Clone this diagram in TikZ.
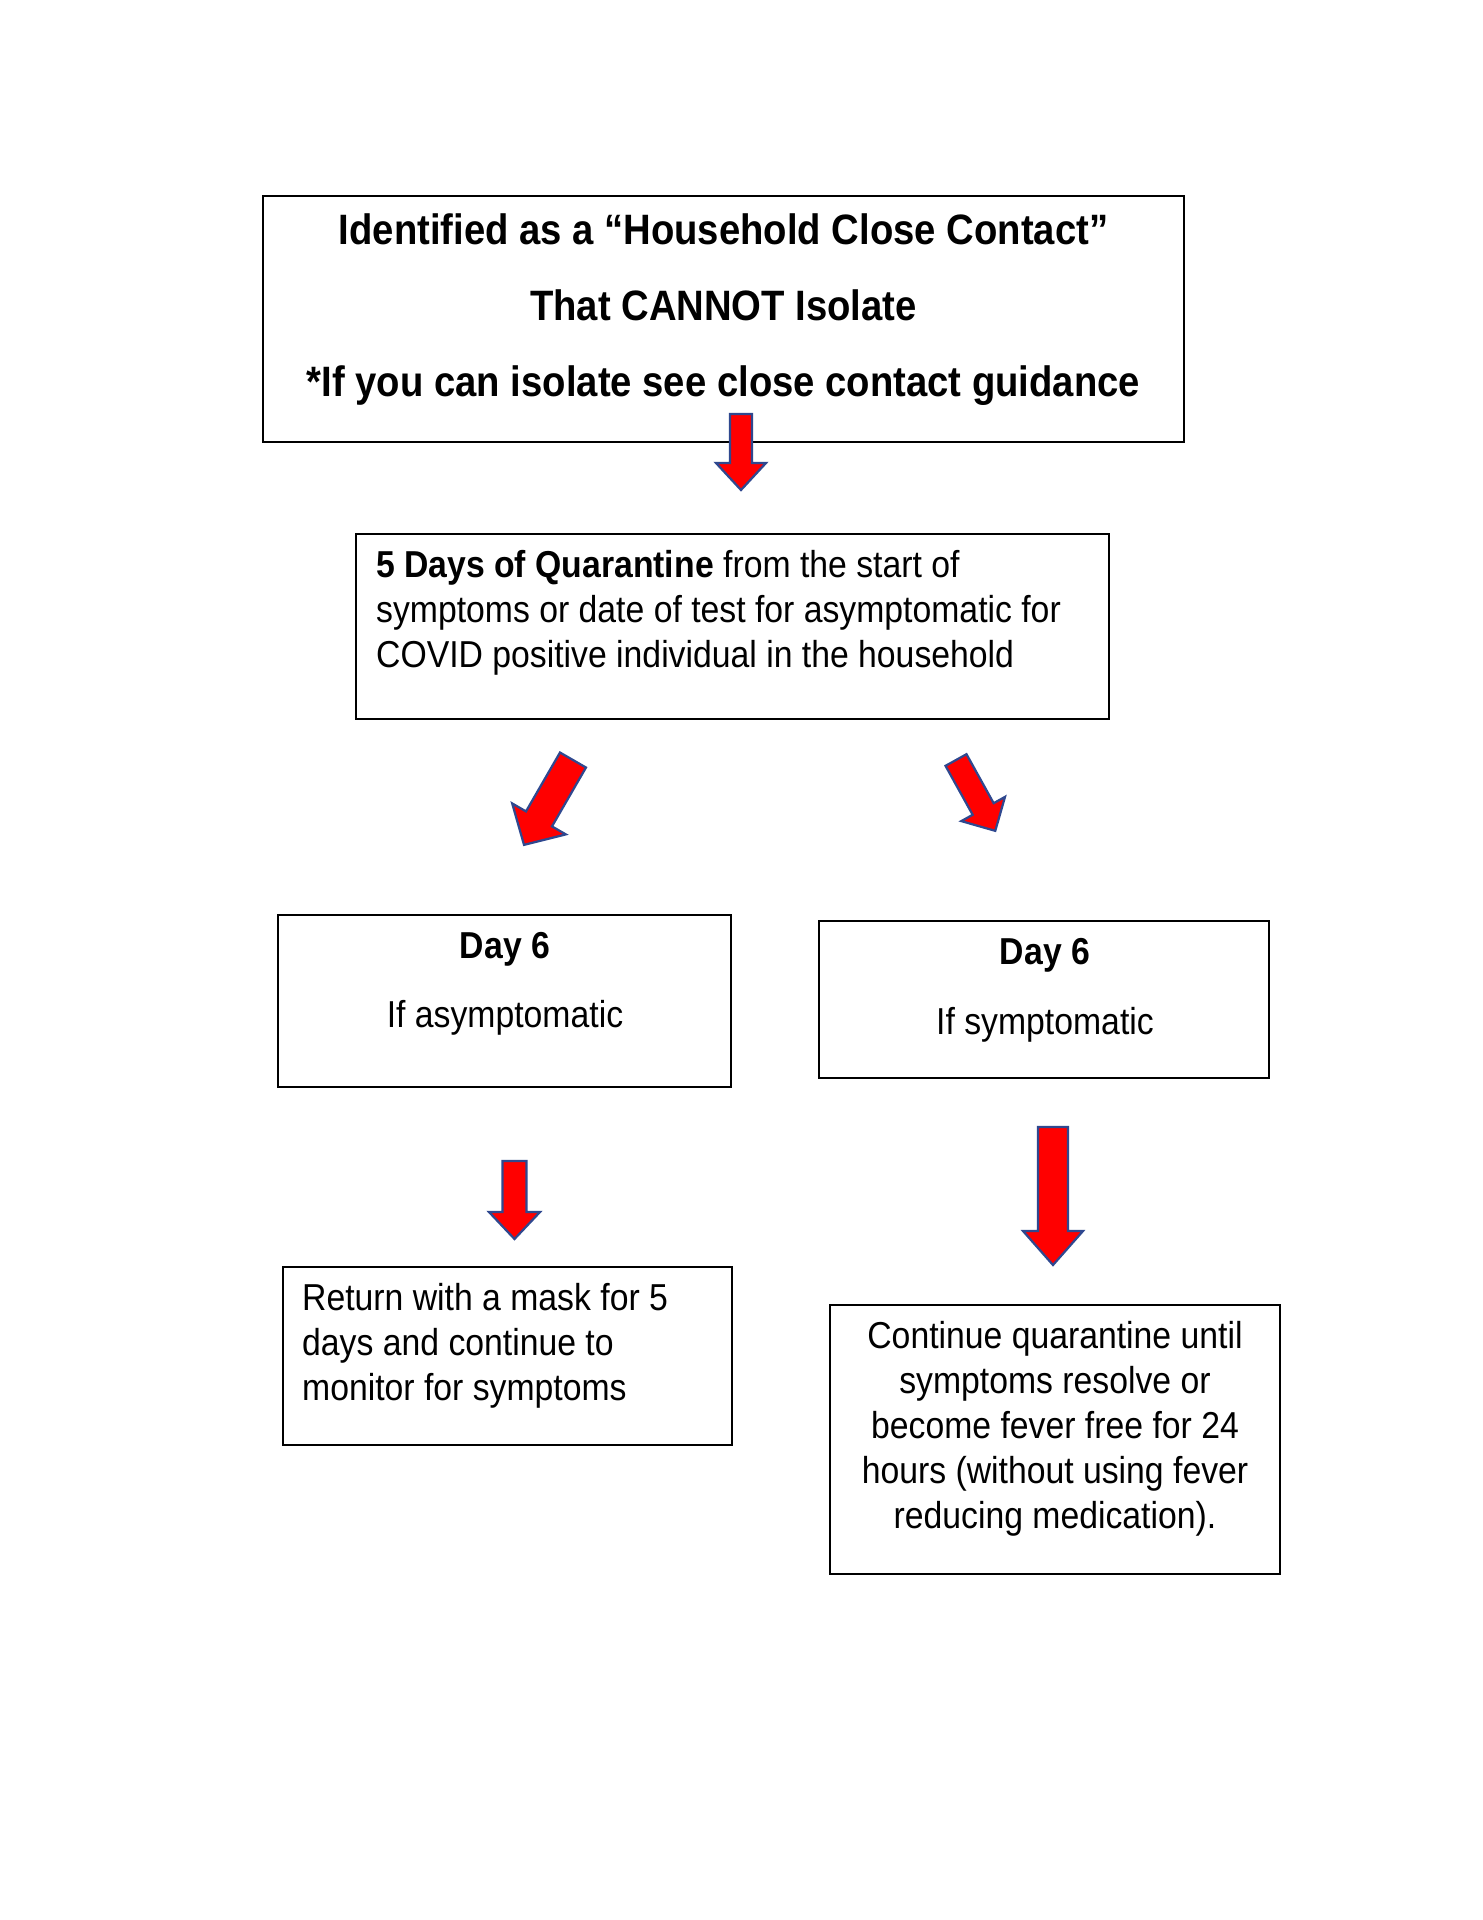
\documentclass[tikz,border=0pt]{standalone}
\usepackage{fontspec}
\setmainfont{Liberation Sans}[FakeStretch=0.9]
\begin{document}
\begin{tikzpicture}[x=1pt,y=-1pt,
  box/.style={draw=black,line width=2.5pt,fill=none,inner sep=0pt},
  barrow/.style={fill=red,draw={rgb,255:red,47;green,72;blue,143},line width=2.2pt,line join=miter},
  big/.style={font=\bfseries\fontsize{42.5}{76}\selectfont,inner sep=0pt,anchor=base},
  body/.style={font=\fontsize{37.5}{45}\selectfont,inner sep=0pt,anchor=base}]
\useasboundingbox (0,0) rectangle (1483,1920);
\fill[white] (0,0) rectangle (1483,1920);
\newcommand\blockarrow[7]{\begin{scope}[shift={(#1,#2)},rotate=#3]
\draw[barrow] (0,-#5) -- ({#4-#7},-#5) -- ({#4-#7},-#6) -- (#4,0) -- ({#4-#7},#6) -- ({#4-#7},#5) -- (0,#5) -- cycle;
\end{scope}}
% boxes
\node[box,minimum width=921,minimum height=246] (b1) at (723.5,319) {};
\node[box,minimum width=753,minimum height=185] (b2) at (732.5,626.5) {};
\node[box,minimum width=453,minimum height=172] (b3) at (504.5,1001) {};
\node[box,minimum width=450,minimum height=157] (b4) at (1044,999.5) {};
\node[box,minimum width=449,minimum height=178] (b5) at (507.5,1356) {};
\node[box,minimum width=450,minimum height=269] (b6) at (1055,1439.5) {};
% texts
\node[big] (t1a) at (723.5,244) {Identified as a “Household Close Contact”};
\node[big] (t1b) at (723.5,320) {That CANNOT Isolate};
\node[big] (t1c) at (723.5,396) {*If you can isolate see close contact guidance};
\node[body,anchor=base west] (t2a) at (376,577) {\textbf{5 Days of Quarantine} from the start of};
\node[body,anchor=base west] (t2b) at (376,622) {symptoms or date of test for asymptomatic for};
\node[body,anchor=base west] (t2c) at (376,667) {COVID positive individual in the household};
\node[body] (t3a) at (505,958) {\bfseries Day 6};
\node[body] (t3b) at (505,1027) {If asymptomatic};
\node[body] (t4a) at (1045,964) {\bfseries Day 6};
\node[body] (t4b) at (1045,1034) {If symptomatic};
\node[body,anchor=base west] (t5a) at (302,1310) {Return with a mask for 5};
\node[body,anchor=base west] (t5b) at (302,1355) {days and continue to};
\node[body,anchor=base west] (t5c) at (302,1400) {monitor for symptoms};
\node[body] (t6a) at (1055,1348) {Continue quarantine until};
\node[body] (t6b) at (1055,1393) {symptoms resolve or};
\node[body] (t6c) at (1055,1438) {become fever free for 24};
\node[body] (t6d) at (1055,1483) {hours (without using fever};
\node[body] (t6e) at (1055,1528) {reducing medication).};
% block arrows
\blockarrow{741}{414}{-90}{76}{11}{25}{27}
\blockarrow{573}{760}{-120}{98}{15}{31}{30}
\blockarrow{956}{760}{-61}{81}{12}{25}{25}
\blockarrow{514.5}{1161}{-90}{78}{12}{25.5}{27}
\blockarrow{1053}{1127}{-90}{138}{15}{30}{34}
\end{tikzpicture}
\end{document}
